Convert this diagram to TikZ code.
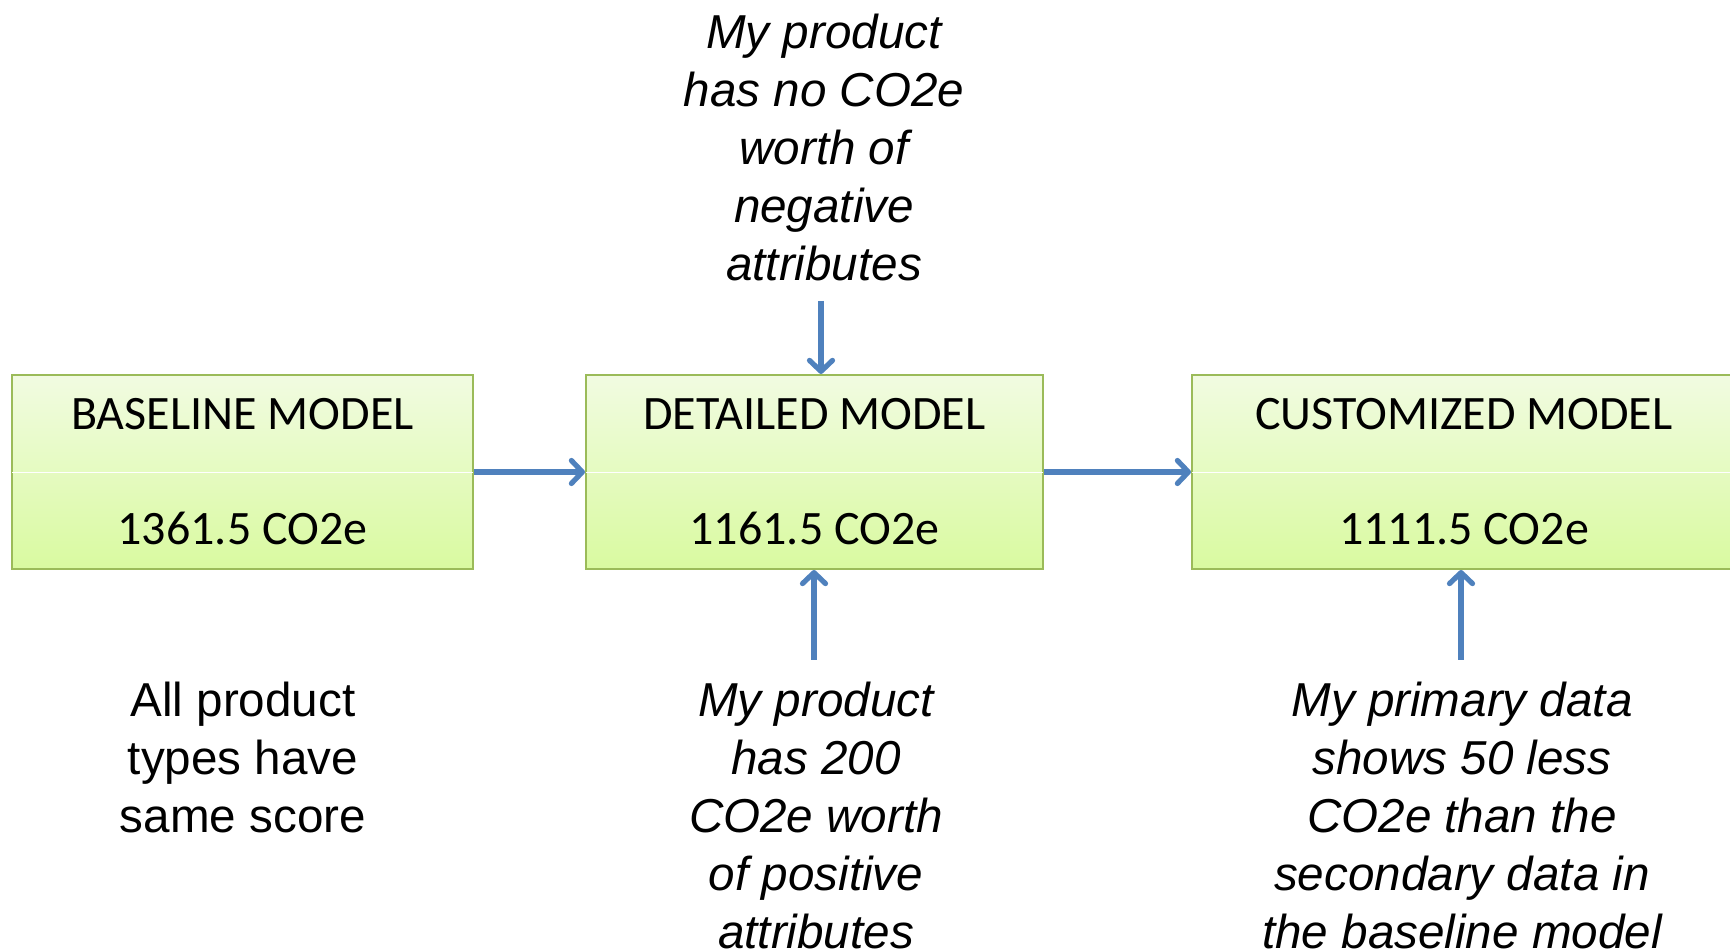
\documentclass[tikz,border=0pt]{standalone}
\usepackage{fontspec}
\setmainfont{Carlito}
\newfontfamily\notefont{Liberation Sans}
\usetikzlibrary{positioning, arrows.meta}
\definecolor{boxline}{HTML}{9BBB59}
\definecolor{boxtop}{HTML}{F1FBE1}
\definecolor{boxbottom}{HTML}{D9FAA0}
\definecolor{flowblue}{HTML}{4F81BD}
\tikzset{
  modelbox/.style={rectangle, draw=boxline, line width=1pt, top color=boxtop, bottom color=boxbottom,
    minimum height=97pt, align=center, font=\fontsize{24}{57.5}\selectfont},
  note/.style={align=center, font=\notefont\fontsize{23.8}{29}\selectfont},
  flow/.style={-{Straight Barb[round, length=5.5pt, width=11.5pt]}, line width=2.6pt, draw=flowblue},
}

\begin{document}
\begin{tikzpicture}[x=0.5pt, y=-0.5pt]
  \useasboundingbox (0,0) rectangle (1730,951);

  % Model boxes
  \node[modelbox, minimum width=230.5pt] (baseline) at (242.5,472) {BASELINE MODEL\\1361.5 CO2e};
  \node[modelbox, minimum width=228.5pt, right=55.5pt of baseline] (detailed) {DETAILED MODEL\\1161.5 CO2e};
  \node[modelbox, minimum width=272pt, right=73.5pt of detailed] (custom) {CUSTOMIZED MODEL\\1111.5 CO2e};

  % faint seam across the middle of each box
  \foreach \b in {baseline, detailed, custom}
    \draw[white, line width=0.4pt] ([xshift=0.5pt]\b.west) -- ([xshift=-0.5pt]\b.east);

  % Notes
  \node[note] (topnote) at (824,147) {\itshape My product\\\itshape has no CO2e\\\itshape worth of\\\itshape negative\\\itshape attributes};
  \node[note] (basenote) at (243,757) {All product\\types have\\same score};
  \node[note] (midnote) at (816,815) {\itshape My product\\\itshape has 200\\\itshape CO2e worth\\\itshape of positive\\\itshape attributes};
  \node[note] (customnote) at (1462,815) {\itshape My primary data\\\itshape shows 50 less\\\itshape CO2e than the\\\itshape secondary data in\\\itshape the baseline model};

  % Arrows between models
  \draw[flow] (baseline) -- (detailed);
  \draw[flow] (detailed) -- (custom);

  % Arrows from notes
  \coordinate (topstart) at (821,301);
  \coordinate (midstart) at (814,660);
  \coordinate (customstart) at (1461,660);
  \draw[flow] (topstart) -- (topstart |- detailed.north);
  \draw[flow] (midstart) -- (midstart |- detailed.south);
  \draw[flow] (customstart) -- (customstart |- custom.south);

\end{tikzpicture}
\end{document}
